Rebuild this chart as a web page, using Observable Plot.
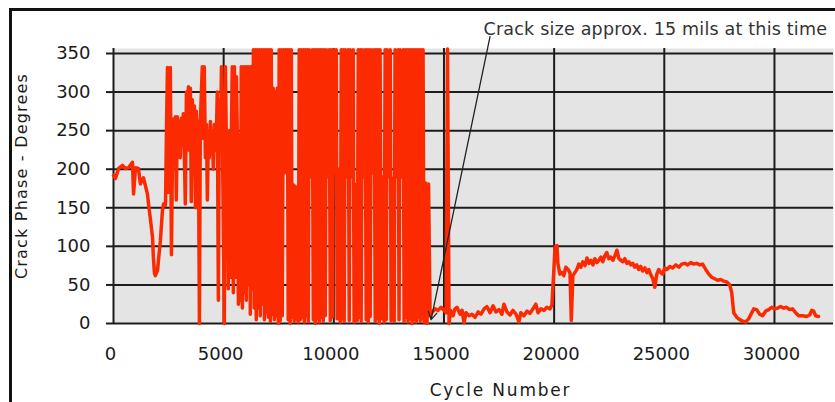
<!DOCTYPE html>
<html><head><meta charset="utf-8">
<script src="https://cdn.jsdelivr.net/npm/d3@7"></script>
<script src="https://cdn.jsdelivr.net/npm/@observablehq/plot@0.6"></script>
<style>
html,body{margin:0;padding:0;background:#fff;overflow:hidden}
#wrap{position:relative;width:835px;height:402px;overflow:hidden;background:#fff}
#wrap svg{position:absolute;left:0;top:0}
#border{position:absolute;left:9px;top:8px;width:900px;height:500px;border-left:3px solid #111;border-top:3px solid #111;pointer-events:none}
</style></head><body>
<div id="wrap"></div>
<script>
const yTicks = [0, 50, 100, 150, 200, 250, 300, 350];
const xTicks = [0, 5000, 10000, 15000, 20000, 25000, 30000];
const yLabel = "Crack Phase - Degrees";
const xLabel = "Cycle Number";
const note = "Crack size approx. 15 mils at this time";
const noteArrow = {x1: 17090, y1: 372, x2: 14415, y2: 5};

const cycles = [
  0,90,230,410,540,680,860,910,1000,1130,1220,1360,1540,1590,1680,1770,1810,1860,1900,2000,2040,2130,2220,2270,2360,
  2400,2450,2490,2540,2580,2630,2670,2720,2760,2810,2850,2900,2940,2990,3030,3080,3120,3170,3210,3260,3310,3350,3400,3440,3490,3530,3580,3620,3670,3720,3760,3810,3850,3900,3940,
  4030,4080,4120,4170,4220,4260,4310,4350,4400,4440,4490,4530,4580,4620,4670,4710,4760,4800,4850,4900,4940,5030,5080,5120,5170,5210,5260,5300,5350,5390,5440,5490,5530,5580,5620,5670,5710,5760,5800,5850,5890,5940,5980,6030,6070,6120,6170,6210,6260,6300,
  6350,6390,6440,6480,6530,6570,6620,6660,6710,6750,6800,6850,6890,6940,6980,7030,7070,7120,7160,7210,7250,7300,7340,7390,7430,7480,7520,7570,7620,7660,7710,7750,7800,7840,7890,7930,7980,8020,8070,8110,8160,8200,8250,8300,8340,8390,8430,
  8480,8520,8570,8610,8660,8700,8750,8790,8840,8880,8950,9020,9070,9110,9160,9200,9250,9290,9340,9380,9430,9470,9520,9560,9610,9660,9720,9790,9840,9880,9930,9970,10040,10110,10150,10220,10290,10340,10380,10430,10470,10520,10580,10650,10700,10740,10810,10880,10920,10990,11060,11110,11150,11200,11240,11290,11360,11420,11470,11510,11560,11600,11650,11700,11760,11830,11880,11920,11970,12010,12060,12100,12150,12220,12280,12330,12380,12420,12490,12560,12600,12670,12740,12780,12850,12920,12960,13010,13080,13150,13190,13240,13280,13330,13370,13420,13460,13510,13550,13600,13640,13690,13740,13780,13830,13870,13920,13960,14010,14050,14100,14170,14230,14300,14370,14420,
  14600,14730,14870,15000,15100,15160,15230,15300,15410,15500,15590,15730,15820,15910,16000,16140,16270,16410,16550,16680,16820,16950,17090,17230,17360,17500,17630,17720,17860,18000,18130,18270,18400,18490,18630,18770,18900,19040,19170,19270,19400,19540,19670,19810,19900,19970,
  20040,20130,20170,20260,20350,20440,20530,20630,20720,20780,20850,20940,21030,21120,21210,21300,21400,21490,21580,21670,21760,21850,21940,22030,22120,22210,22300,22390,22480,22570,22670,22760,22850,22940,23030,23120,23210,23300,23390,23480,23570,23660,23750,23840,23930,24020,24120,24210,24300,24390,24480,24570,24660,24750,24840,24930,
  25020,25110,25250,25380,25520,25660,25790,25930,26060,26200,26340,26470,26610,26740,26880,27020,27150,27290,27420,27560,27700,27830,27970,28060,28150,28290,28420,28560,28690,28830,28970,29060,29190,29330,29460,29600,29740,29870,30010,30140,30280,30420,30550,30690,30820,30960,31100,31280,31460,31600,31690,31780,31870,32000
];
const phase = [
  192,188,201,205,201,202,209,168,202,201,181,189,168,155,134,112,86,65,62,69,82,108,146,155,153,
  240,332,170,262,332,89,200,265,225,268,160,268,225,262,215,266,230,272,228,155,300,225,307,225,305,158,290,230,282,150,275,232,262,0,260,
  333,240,333,215,258,160,248,215,262,225,250,200,258,225,245,300,30,290,225,333,250,0,333,240,245,45,250,60,240,333,40,333,60,320,245,25,245,30,333,20,333,40,333,30,333,50,333,12,333,45,
  355,20,355,5,355,20,355,10,355,25,355,5,355,15,355,8,355,3,355,12,305,5,300,10,305,0,355,4,355,10,355,195,355,200,355,5,355,0,355,8,180,3,178,5,175,2,355,
  5,355,8,355,2,355,10,355,3,355,190,355,5,355,0,355,6,355,2,355,8,355,3,355,10,355,190,355,4,355,8,355,195,355,6,200,2,355,6,355,3,355,190,355,4,355,190,355,2,180,4,355,8,355,3,355,190,355,5,355,2,355,9,355,195,355,3,355,7,355,0,355,6,190,2,355,5,355,190,355,4,188,3,355,190,355,5,355,190,355,3,355,8,355,2,355,6,355,0,355,5,355,2,355,8,355,3,355,6,355,2,182,0,181,10,13,
  19,17,21,17,14,356,0,17,10,19,21,12,17,1,14,10,12,8,15,12,19,22,14,23,15,18,12,25,15,11,17,12,2,14,10,16,13,19,25,14,19,17,21,19,24,60,
  99,101,78,64,66,62,73,70,66,4,62,66,70,77,73,80,75,85,78,82,76,84,79,82,86,80,88,92,84,86,82,88,95,84,82,80,84,78,80,76,78,73,76,70,74,68,72,66,70,63,58,47,64,70,66,64,
  72,70,74,72,76,73,77,78,76,79,77,78,76,77,70,64,60,58,56,57,55,54,50,40,14,8,5,3,2,6,14,19,18,12,10,16,18,21,19,20,22,20,21,18,19,14,10,10,9,11,17,16,10,9
];

const data = cycles.map((c, i) => ({cycle: c, phase: phase[i]}));

const chart = Plot.plot({
  width: 835, height: 402,
  marginLeft: 113, marginRight: 2, marginTop: 48, marginBottom: 79,
  style: {fontFamily: "DejaVu Sans", background: "transparent", overflow: "visible"},
  x: {domain: [0, 32680], axis: null},
  y: {domain: [0, 356.5], axis: null},
  marks: [
    Plot.frame({fill: "#e4e4e4"}),
    Plot.ruleY(yTicks, {stroke: "#1c1c1c", strokeWidth: 2}),
    Plot.ruleX(xTicks, {stroke: "#1c1c1c", strokeWidth: 2}),
    Plot.line(data, {x: "cycle", y: "phase", stroke: "#fc2a00", strokeWidth: 3.5}),
    Plot.axisY({ticks: yTicks, tickSize: 7, tickPadding: 16, fontSize: 18, stroke: "#1c1c1c", strokeWidth: 2, fill: "#1a1a1a", label: null}),
    Plot.axisX({ticks: xTicks, tickSize: 0, tickPadding: 24, fontSize: 18, fill: "#1a1a1a", dx: -3, tickFormat: d3.format("d"), label: null}),
    Plot.text([yLabel], {frameAnchor: "left", textAnchor: "middle", rotate: -90, dx: -92, dy: -10, fontSize: 16, fill: "#1a1a1a"}),
    Plot.text([xLabel], {frameAnchor: "bottom", dx: 27, dy: 72, fontSize: 17, fill: "#1a1a1a"}),
    Plot.text([note], {frameAnchor: "top-left", textAnchor: "start", dx: 370, dy: -26, fontSize: 17.5, fill: "#333"}),
    Plot.arrow([noteArrow], {x1: "x1", y1: "y1", x2: "x2", y2: "y2", stroke: "#222", strokeWidth: 1.3, headLength: 10})
  ]
});

const wrap = document.getElementById("wrap");
wrap.appendChild(chart);
const b = document.createElement("div"); b.id = "border"; wrap.appendChild(b);

d3.select(chart).selectAll("text").each(function() {
  const t = this.textContent;
  if (t === yLabel) this.style.letterSpacing = "1.2px";
  if (t === xLabel) this.style.letterSpacing = "1.8px";
  if (t === note) this.style.letterSpacing = "0.2px";
});
</script>
</body></html>
